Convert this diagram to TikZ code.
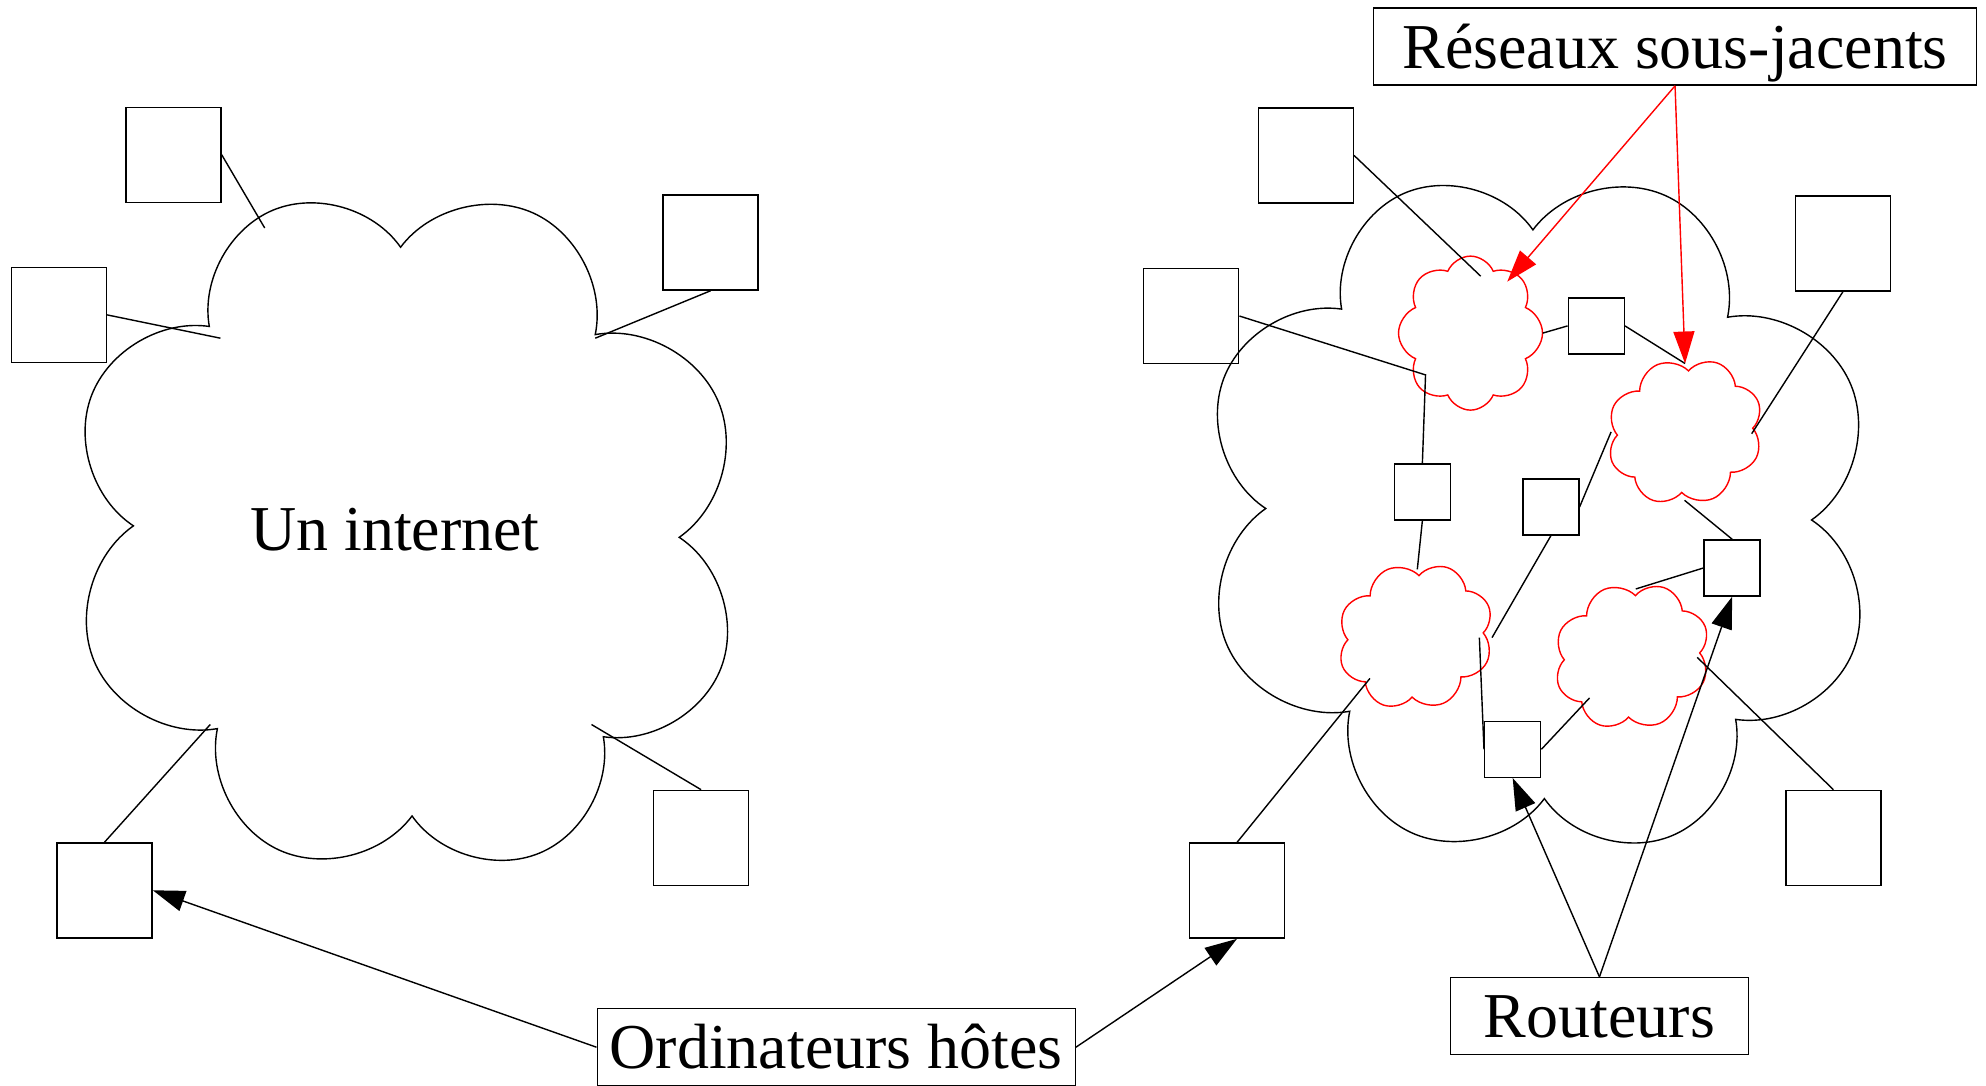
\documentclass[tikz,border=0pt]{standalone}
\usepackage{fontspec}
\setmainfont{Liberation Serif}
\usetikzlibrary{shapes.symbols,arrows.meta}
\tikzset{>={Triangle[length=3.2mm,width=2.1mm]}}
\tikzset{
  host/.style={draw,minimum size=9.5mm,inner sep=0pt},
  router/.style={draw,minimum size=5.6mm,inner sep=0pt},
  bigcloud/.style={draw,cloud,cloud puffs=8,cloud puff arc=155,cloud ignores aspect,
    rotate=22.5,minimum width=67.6mm,minimum height=69.6mm,inner sep=0pt},
  subnet/.style={draw=red,cloud,cloud puffs=8,cloud puff arc=135,cloud ignores aspect,
    minimum width=15.8mm,minimum height=14.5mm,inner sep=0pt},
  txt/.style={font=\fontsize{18.2}{22}\selectfont,text height=12.3pt,text depth=0pt},
  legend/.style={txt,draw,inner sep=0pt,minimum height=7.7mm},
}

\begin{document}
\begin{tikzpicture}[x=0.126658mm,y=-0.126658mm]
  \useasboundingbox (0,0) rectangle (1568,857.4);

  \node[bigcloud] (inet) at (320.8,419.7) {};
  \node[txt] (intxt) at (311.8,417.3) {Un internet};
  \node[host] (h1) at (137,122.2) {};
  \node[host] (h2) at (46.5,248.6) {};
  \node[host] (h3) at (561,191.5) {};
  \node[host] (h4) at (553.5,661.5) {};
  \node[host] (h5) at (82.6,702.9) {};
  \coordinate (a1) at (209,180);
  \coordinate (a2) at (174,267);
  \coordinate (a3) at (470,267);
  \coordinate (a4) at (467,572);
  \coordinate (a5) at (166,572);
  \draw (h1.east)  -- (a1);
  \draw (h2.east)  -- (a2);
  \draw (h3.south) -- (a3);
  \draw (h4.north) -- (a4);
  \draw (h5.north) -- (a5);

  \node[bigcloud] (cat) at (1214.8,406) {};
  \node[host] (rh1) at (1031,122.7) {};
  \node[host] (rh2) at (940.5,249.5) {};
  \node[host] (rh3) at (1455,192.3) {};
  \node[host] (rh4) at (1447.5,661.5) {};
  \node[host] (rh5) at (976.6,703.2) {};
  \node[router] (r1) at (1260.3,257.3) {};
  \node[router] (r2) at (1123,388.4) {};
  \node[router] (r3) at (1224.4,400.4) {};
  \node[router] (r4) at (1367.6,448.4) {};
  \node[router] (r5) at (1194.3,591.6) {};
  \node[subnet,minimum width=14.4mm,minimum height=15.4mm] (n1) at (1161,263) {};
  \node[subnet,rotate=22.5] (n2) at (1330.4,340.8) {};
  \node[subnet,rotate=22.5] (n3) at (1117.6,502.4) {};
  \node[subnet,rotate=22.5] (n4) at (1288.5,518.2) {};

  \coordinate (n1tip) at (1190,222.4);
  \coordinate (n2top) at (1330.4,287);
  \coordinate (b1) at (1169,218);
  \coordinate (b2) at (1125.5,296);
  \coordinate (b3) at (1119,449.5);
  \coordinate (b4) at (1218,263);
  \coordinate (b5) at (1272,341);
  \coordinate (b6) at (1178,503.4);
  \coordinate (b7) at (1330,395);
  \coordinate (b8) at (1291.5,465);
  \coordinate (b9) at (1383,342.4);
  \coordinate (b10) at (1168,503.4);
  \coordinate (b11) at (1255,551);
  \coordinate (b12) at (1081.6,535.6);
  \coordinate (b13) at (1340,519);
  \draw (rh1.east) -- (b1);
  \draw (rh2.east) -- (b2) -- (r2.north);
  \draw (r2.south) -- (b3);
  \draw (r1.west) -- (b4);
  \draw (r1.east) -- (n2top);
  \draw (r3.east) -- (b5);
  \draw (r3.south) -- (b6);
  \draw (b7) -- (r4.north);
  \draw (r4.west) -- (b8);
  \draw (rh3.south) -- (b9);
  \draw (b10) -- (r5.west);
  \draw (r5.east) -- (b11);
  \draw (rh5.north) -- (b12);
  \draw (rh4.north) -- (b13);

  \node[legend,minimum width=60.3mm] (res) at (1322.5,36.8) {Réseaux sous-jacents};
  \node[legend,minimum width=29.8mm] (rout) at (1262.8,802.2) {Routeurs};
  \node[legend,minimum width=47.8mm] (ord) at (660.2,826.8) {Ordinateurs hôtes};
  \draw[->,red] (res.south) -- (n1tip);
  \draw[->,red] (res.south) -- (n2top);
  \draw[->] (rout.north) -- (r5.south);
  \draw[->] (rout.north) -- (r4.south);
  \draw[->] (ord.west) -- (h5.east);
  \draw[->] (ord.east) -- (rh5.south);
\end{tikzpicture}
\end{document}
